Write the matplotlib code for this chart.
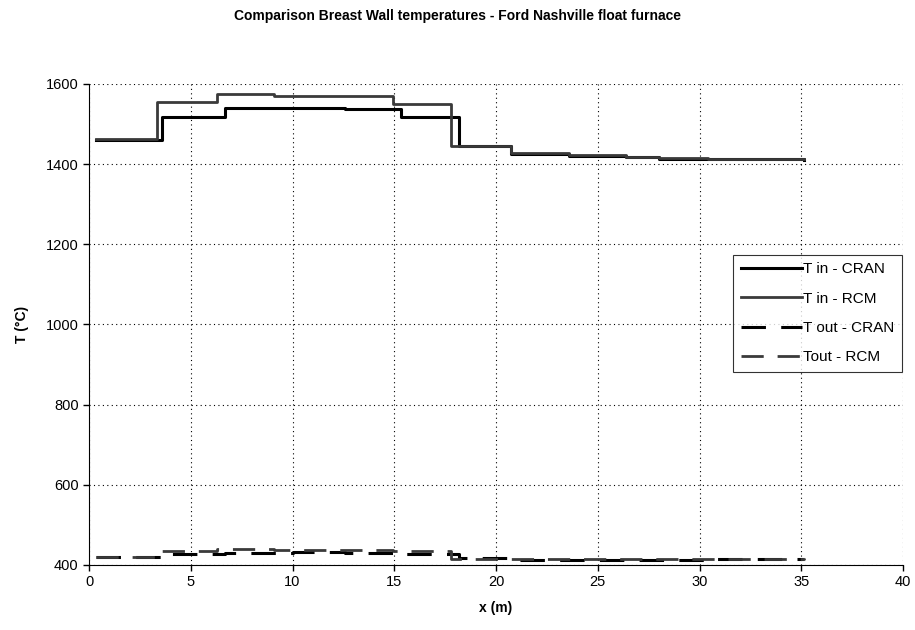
import matplotlib.pyplot as plt

plt.rcParams['font.family'] = ['Liberation Sans', 'DejaVu Sans']

# step breakpoints (m) and temperatures (°C); last value repeats the end level
x_in_cran = [0.35, 3.6, 6.7, 12.6, 15.35, 18.2, 20.75, 23.6, 26.4, 28.0, 30.4, 35.15]
t_in_cran = [1460, 1518, 1541, 1537, 1518, 1446, 1425, 1421, 1417, 1414, 1412, 1410]
x_in_rcm = [0.35, 3.35, 6.3, 9.1, 14.95, 17.8, 20.75, 23.6, 26.4, 28.0, 30.4, 35.15]
t_in_rcm = [1462, 1556, 1575, 1570, 1550, 1445, 1427, 1423, 1418, 1415, 1413, 1412]

x_out_cran = [0.35, 3.6, 6.7, 10.0, 12.6, 15.35, 18.2, 20.75, 25.0, 30.4, 35.15]
t_out_cran = [420, 427, 431, 433, 431, 428, 417, 413, 413, 414, 414]
x_out_rcm = [0.35, 3.35, 6.3, 9.1, 14.95, 17.8, 20.75, 25.0, 30.4, 35.15]
t_out_rcm = [420, 436, 440, 438, 434, 415, 414, 414, 416, 417]

xticks = [0, 5, 10, 15, 20, 25, 30, 35, 40]
yticks = [400, 600, 800, 1000, 1200, 1400, 1600]

fig = plt.figure(figsize=(9.15, 6.3), dpi=100)
ax = fig.add_axes([0.0973, 0.1032, 0.8896, 0.7635])

ax.plot(x_in_cran, t_in_cran, drawstyle='steps-post', color='black', lw=2.2, label='T in - CRAN')
ax.plot(x_in_rcm, t_in_rcm, drawstyle='steps-post', color='#3a3a3a', lw=2.0, label='T in - RCM')
ax.plot(x_out_cran, t_out_cran, drawstyle='steps-post', color='black', lw=2.2,
        dashes=(8, 5), label='T out - CRAN')
ax.plot(x_out_rcm, t_out_rcm, drawstyle='steps-post', color='#3a3a3a', lw=2.0,
        dashes=(8, 5), label='Tout - RCM')

ax.set_xlim(0, 40)
ax.set_ylim(400, 1600)
ax.set_xticks(xticks)
ax.set_yticks(yticks)
ax.tick_params(labelsize=10.5, direction='out', length=4, width=1)
ax.grid(True, color='black', linestyle=(0, (1, 3)), lw=0.8)
for s in ['top', 'right']:
    ax.spines[s].set_visible(False)

ax.set_xlabel('x (m)', fontsize=10, fontweight='bold', labelpad=8)
ax.set_ylabel('T (°C)', fontsize=10, fontweight='bold', labelpad=12)
fig.text(0.5, 0.974, 'Comparison Breast Wall temperatures - Ford Nashville float furnace',
         ha='center', va='center', fontsize=10, fontweight='bold')

leg = ax.legend(loc='upper left', bbox_to_anchor=(0.791, 0.645), fontsize=11,
                frameon=True, fancybox=False, handlelength=4.0, handletextpad=0.1,
                borderpad=0.5, labelspacing=1.0, borderaxespad=0)
leg.get_frame().set_edgecolor('black')
leg.get_frame().set_linewidth(0.8)

plt.savefig('out.png', dpi=100)
